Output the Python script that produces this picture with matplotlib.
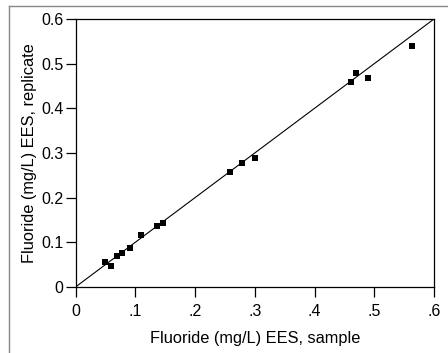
import matplotlib
matplotlib.use("Agg")
import matplotlib.pyplot as plt
from matplotlib.lines import Line2D
import numpy as np

plt.rcParams['font.family'] = ['Liberation Sans', 'DejaVu Sans']

# sample vs replicate fluoride (mg/L)
sample = [0.050, 0.060, 0.070, 0.077, 0.092, 0.110, 0.137, 0.147,
          0.258, 0.278, 0.300, 0.461, 0.469, 0.489, 0.563]
replicate = [0.056, 0.047, 0.069, 0.076, 0.087, 0.116, 0.136, 0.143,
             0.257, 0.277, 0.288, 0.458, 0.478, 0.468, 0.539]
x_ticks = [0, 0.1, 0.2, 0.3, 0.4, 0.5, 0.6]
x_labels = ['0', '.1', '.2', '.3', '.4', '.5', '.6']
y_ticks = [0, 0.1, 0.2, 0.3, 0.4, 0.5, 0.6]
y_labels = ['0', '0.1', '0.2', '0.3', '0.4', '0.5', '0.6']

fig = plt.figure(figsize=(4.48, 3.53), dpi=100)
ax = fig.add_axes([75.5/448, 1 - 287/353, (434 - 75.5)/448, (287 - 19)/353])

# 1:1 line
ax.plot([0, 0.6], [0, 0.6], color='black', lw=0.8)
ax.scatter(sample, replicate, marker='s', s=13, color='black', linewidths=0)

ax.set_xlim(0, 0.6)
ax.set_ylim(0, 0.6)
ax.set_xticks(x_ticks)
ax.set_xticklabels(x_labels)
ax.set_yticks(y_ticks)
ax.set_yticklabels(y_labels)
ax.tick_params(direction='out', length=7, width=0.9, labelsize=11.5)
ax.tick_params(axis='x', pad=5.5)
ax.tick_params(axis='y', pad=1.5)
for s in ax.spines.values():
    s.set_linewidth(0.9)

ax.set_xlabel('Fluoride (mg/L) EES, sample', fontsize=11.8, labelpad=8.5)
ax.set_ylabel('Fluoride (mg/L) EES, replicate', fontsize=11.8, labelpad=3)

# gray frame around the figure (top and left)
fig.add_artist(Line2D([9/448, 1], [1 - 6/353, 1 - 6/353], color='#888888', lw=1))
fig.add_artist(Line2D([9/448, 9/448], [0, 1 - 6/353], color='#888888', lw=1))

fig.savefig('out.png', dpi=100)
